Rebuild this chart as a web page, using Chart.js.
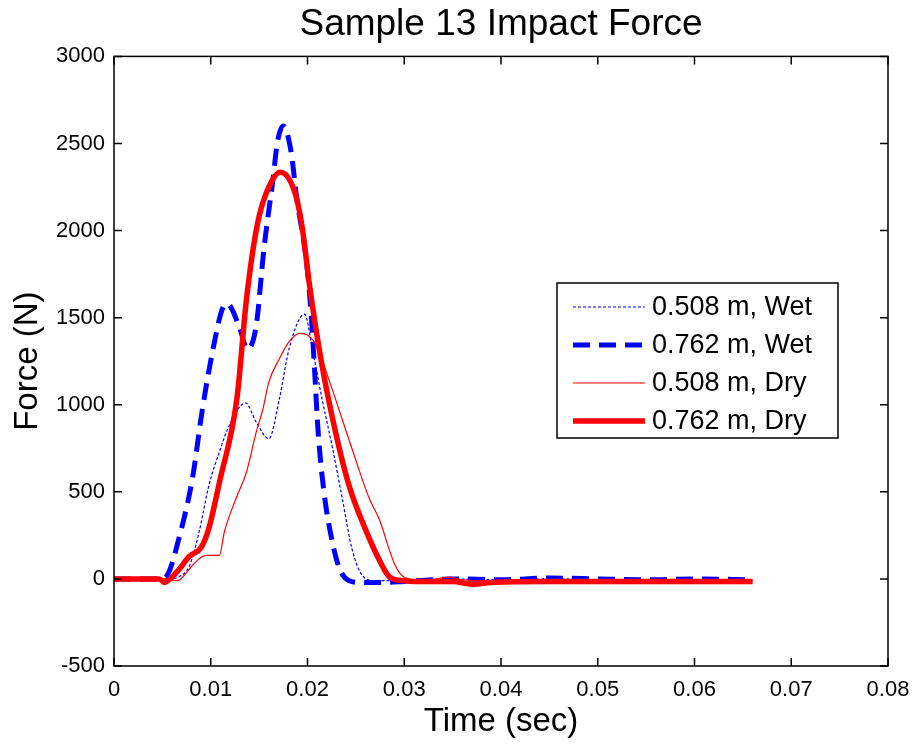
<!DOCTYPE html>
<html>
<head>
<meta charset="utf-8">
<script src="https://cdn.jsdelivr.net/npm/chart.js@4"></script>
<style>
  html, body { margin: 0; padding: 0; background: #fff; }
  #wrap { width: 915px; height: 744px; }
</style>
</head>
<body>
<div id="wrap"><canvas id="myChart" width="915" height="744"></canvas></div>
<script>
// time (s) and force (N)
const tWet508 = [0, 0.0058, 0.0066, 0.0078, 0.0088, 0.0098, 0.0109, 0.0119, 0.0136, 0.0147, 0.0160, 0.0171, 0.0181, 0.0197, 0.0205, 0.0215, 0.0226, 0.0236, 0.0246, 0.0257, 0.0270, 0.0300, 0.0350, 0.0400, 0.0450, 0.0500, 0.0550, 0.0600, 0.0660];
const fWet508 = [0, 0, 10, 75, 270, 535, 730, 880, 1010, 900, 805, 1035, 1322, 1520, 1322, 1035, 747, 460, 172, 17, -10, -10, 0, -5, 0, -5, -5, -5, -10];

const tWet762 = [0, 0.0048, 0.0056, 0.0067, 0.0081, 0.0091, 0.0101, 0.0112, 0.0117, 0.0129, 0.0138, 0.0147, 0.0155, 0.0164, 0.0169, 0.0175, 0.0183, 0.0189, 0.0199, 0.0204, 0.0207, 0.0211, 0.0217, 0.0225, 0.0233, 0.0243, 0.0255, 0.0280, 0.0300, 0.0350, 0.0400, 0.0450, 0.0500, 0.0550, 0.0600, 0.0660];
const fWet762 = [0, 0, 30, 230, 575, 960, 1282, 1550, 1580, 1455, 1320, 1455, 1897, 2280, 2510, 2600, 2453, 2180, 1820, 1500, 1230, 845, 500, 230, 60, -10, -20, -20, -15, 0, -5, 5, 0, -5, 0, -5];

const tDry508 = [0, 0.0052, 0.0065, 0.0069, 0.0081, 0.0088, 0.0095, 0.0109, 0.0114, 0.0126, 0.0137, 0.0147, 0.0154, 0.0160, 0.0171, 0.0181, 0.0192, 0.0200, 0.0209, 0.0223, 0.0246, 0.0264, 0.0274, 0.0290, 0.0300, 0.0320, 0.0347, 0.0360, 0.0400, 0.0450, 0.0500, 0.0550, 0.0600, 0.0660];
const fDry508 = [0, 0, -10, 0, 77, 115, 135, 135, 268, 460, 615, 843, 977, 1130, 1264, 1362, 1410, 1400, 1340, 1130, 747, 460, 345, 86, 10, -10, 10, -5, -10, -10, -10, -10, -10, -10];

const tDry762 = [0, 0.0047, 0.0052, 0.0065, 0.0078, 0.0090, 0.0098, 0.0109, 0.0127, 0.0137, 0.0148, 0.0158, 0.0172, 0.0188, 0.0195, 0.0202, 0.0215, 0.0229, 0.0243, 0.0261, 0.0275, 0.0285, 0.0300, 0.0330, 0.0350, 0.0370, 0.0390, 0.0450, 0.0500, 0.0550, 0.0600, 0.0660];
const fDry762 = [0, 0, -20, 40, 130, 180, 290, 555, 1034, 1609, 2030, 2224, 2335, 2200, 2000, 1690, 1226, 843, 535, 270, 100, 10, -10, -15, -15, -30, -20, -15, -15, -15, -15, -15];

const seriesNames = ['0.508 m, Wet', '0.762 m, Wet', '0.508 m, Dry', '0.762 m, Dry'];
const xTicks = [0, 0.01, 0.02, 0.03, 0.04, 0.05, 0.06, 0.07, 0.08];
const yTicks = [-500, 0, 500, 1000, 1500, 2000, 2500, 3000];

const FONT = "'Liberation Sans', Arial, sans-serif";

function puntos(t, f) {
    return t.map((x, i) => ({ x: x, y: f[i] }));
}

const estilos = [
    { color: '#0000ff', width: 1.2, dash: [3, 2] },
    { color: '#0000ff', width: 5, dash: [17, 9] },
    { color: '#ff0000', width: 1.2, dash: [] },
    { color: '#ff0000', width: 5.5, dash: [] }
];

// marco tipo MATLAB: caja completa con marcas hacia adentro
const marcoPlugin = {
    id: 'marco',
    afterDatasetsDraw(chart) {
        const { ctx, chartArea: a, scales } = chart;
        ctx.save();
        ctx.strokeStyle = '#000';
        ctx.lineWidth = 1.5;
        ctx.strokeRect(a.left, a.top, a.right - a.left, a.bottom - a.top);
        const len = 8;
        ctx.beginPath();
        xTicks.forEach(v => {
            const px = scales.x.getPixelForValue(v);
            ctx.moveTo(px, a.bottom); ctx.lineTo(px, a.bottom - len);
            ctx.moveTo(px, a.top); ctx.lineTo(px, a.top + len);
        });
        yTicks.forEach(v => {
            const py = scales.y.getPixelForValue(v);
            ctx.moveTo(a.left, py); ctx.lineTo(a.left + len, py);
            ctx.moveTo(a.right, py); ctx.lineTo(a.right - len, py);
        });
        ctx.stroke();
        ctx.restore();
    },
    afterDraw(chart) {
        // leyenda dentro del area
        const { ctx } = chart;
        const bx = 557, by = 283, bw = 281, bh = 155;
        ctx.save();
        ctx.fillStyle = '#fff';
        ctx.fillRect(bx, by, bw, bh);
        ctx.strokeStyle = '#000';
        ctx.lineWidth = 1.5;
        ctx.strokeRect(bx, by, bw, bh);
        const filas = [307, 345, 383, 421];
        ctx.font = '27px ' + FONT;
        ctx.textBaseline = 'middle';
        ctx.textAlign = 'left';
        seriesNames.forEach((nombre, i) => {
            const e = estilos[i];
            ctx.beginPath();
            ctx.strokeStyle = e.color;
            ctx.lineWidth = e.width;
            ctx.setLineDash(e.dash);
            ctx.moveTo(573, filas[i]);
            ctx.lineTo(645, filas[i]);
            ctx.stroke();
            ctx.setLineDash([]);
            ctx.fillStyle = '#000';
            ctx.fillText(nombre, 652, filas[i] + 1);
        });
        ctx.restore();
    }
};

const ctx = document.getElementById('myChart');

const series = [
    puntos(tWet508, fWet508),
    puntos(tWet762, fWet762),
    puntos(tDry508, fDry508),
    puntos(tDry762, fDry762)
];

new Chart(ctx, {
    type: 'line',
    data: {
        datasets: series.map((d, i) => ({
            label: seriesNames[i],
            data: d,
            borderColor: estilos[i].color,
            borderWidth: estilos[i].width,
            borderDash: estilos[i].dash,
            pointRadius: 0,
            fill: false,
            cubicInterpolationMode: 'monotone',
            order: 4 - i
        }))
    },
    options: {
        responsive: false,
        animation: false,
        layout: { padding: { top: 0, right: 27, left: 0, bottom: 0 } },
        plugins: {
            legend: { display: false },
            tooltip: { enabled: false },
            title: {
                display: true,
                fullSize: false,
                text: 'Sample 13 Impact Force',
                color: '#000',
                font: { family: FONT, size: 37, weight: 'normal' },
                padding: { top: 3, bottom: 9 }
            }
        },
        scales: {
            x: {
                type: 'linear',
                min: 0,
                max: 0.08,
                afterBuildTicks: s => { s.ticks = xTicks.map(v => ({ value: v })); },
                afterFit: s => { s.height = 78; s.paddingLeft = 0; s.paddingRight = 0; },
                grid: { display: false, drawTicks: false },
                border: { display: false },
                ticks: {
                    color: '#000',
                    padding: 11,
                    maxRotation: 0,
                    font: { family: FONT, size: 22 },
                    callback: v => String(+v.toFixed(2))
                },
                title: {
                    display: true,
                    text: 'Time (sec)',
                    color: '#000',
                    font: { family: FONT, size: 33 },
                    padding: { top: 0, bottom: 2 }
                }
            },
            y: {
                type: 'linear',
                min: -500,
                max: 3000,
                afterBuildTicks: s => { s.ticks = yTicks.map(v => ({ value: v })); },
                afterFit: s => { s.width = 114; s.paddingTop = 0; s.paddingBottom = 0; },
                grid: { display: false, drawTicks: false },
                border: { display: false },
                ticks: {
                    color: '#000',
                    padding: 9,
                    font: { family: FONT, size: 22 },
                    callback: v => String(v)
                },
                title: {
                    display: true,
                    text: 'Force (N)',
                    color: '#000',
                    font: { family: FONT, size: 33 },
                    padding: { top: 8, bottom: 0 }
                }
            }
        }
    },
    plugins: [marcoPlugin]
});
</script>
</body>
</html>
